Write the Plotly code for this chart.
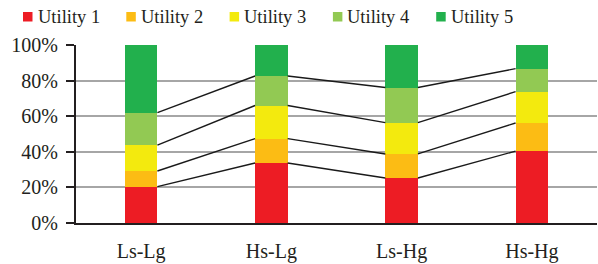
import plotly.graph_objects as go

categories = ["Ls-Lg", "Hs-Lg", "Ls-Hg", "Hs-Hg"]
series_names = ["Utility 1", "Utility 2", "Utility 3", "Utility 4", "Utility 5"]
utility1 = [20.4, 33.7, 25.3, 40.4]
utility2 = [8.8, 13.7, 13.5, 15.8]
utility3 = [14.5, 18.6, 17.6, 17.6]
utility4 = [18.3, 16.6, 19.7, 12.9]
utility5 = [38.0, 17.4, 23.9, 13.3]
colors = ["#ED1C24", "#FCBC14", "#F3EA0E", "#92C953", "#22B04D"]
ytick_vals = [0, 20, 40, 60, 80, 100]
ytick_text = ["0%", "20%", "40%", "60%", "80%", "100%"]

series = [utility1, utility2, utility3, utility4, utility5]
xpos = list(range(len(categories)))
bar_width = 0.25

W, H = 598, 264
ML, MR, MT, MB = 76, 1, 45, 41
PW, PH = W - ML - MR, H - MT - MB

fig = go.Figure()
for name, vals, col in zip(series_names, series, colors):
    fig.add_trace(go.Bar(x=xpos, y=vals, name=name, marker=dict(color=col, line=dict(width=0)),
                         width=bar_width, showlegend=False))

# connector lines between cumulative boundaries
cum = [0.0] * len(categories)
for k in range(len(series) - 1):
    cum = [c + v for c, v in zip(cum, series[k])]
    xs, ys = [], []
    for i in range(len(categories) - 1):
        xs += [xpos[i] + bar_width / 2, xpos[i + 1] - bar_width / 2, None]
        ys += [cum[i], cum[i + 1], None]
    fig.add_trace(go.Scatter(x=xs, y=ys, mode="lines", line=dict(color="#1a1a1a", width=1.4),
                             showlegend=False, hoverinfo="skip"))

font = "Liberation Serif"

# custom legend row (pixel layout converted to paper coordinates)
def px_x(p):
    return (p - ML) / PW

def px_y(p):
    return (H - MB - p) / PH

shapes, annotations = [], []
pitch = 103.3
for i, (name, col) in enumerate(zip(series_names, colors)):
    x0 = 23 + i * pitch
    shapes.append(dict(type="rect", xref="paper", yref="paper",
                       x0=px_x(x0), x1=px_x(x0 + 9.5), y0=px_y(21.5), y1=px_y(12),
                       fillcolor=col, line=dict(width=0), layer="above"))
    annotations.append(dict(text=name, xref="paper", yref="paper", x=px_x(x0 + 12.5),
                            y=px_y(16.5), xanchor="left", yanchor="middle", showarrow=False,
                            font=dict(size=18.5, family=font, color="#231F20")))

fig.update_layout(
    barmode="stack",
    width=W, height=H,
    margin=dict(l=ML, r=MR, t=MT, b=MB, autoexpand=False),
    paper_bgcolor="white", plot_bgcolor="white",
    font=dict(family=font, size=20, color="#231F20"),
    showlegend=False,
    shapes=shapes, annotations=annotations,
    xaxis=dict(range=[-0.5, 3.5], tickvals=xpos, ticktext=categories, showgrid=False,
               showline=True, linecolor="#231F20", linewidth=2, ticks="", zeroline=False,
               ticklabelstandoff=9),
    yaxis=dict(range=[0, 100], tickvals=ytick_vals, ticktext=ytick_text, showgrid=True,
               gridcolor="#A6A6A6", gridwidth=1.5, showline=True, linecolor="#231F20",
               linewidth=2, ticks="outside", ticklen=8, tickcolor="#231F20", tickwidth=1.5,
               zeroline=False, ticklabelstandoff=4),
)
fig.write_html("out.html", config={"displayModeBar": False},
               post_script="document.body.style.margin='0';document.body.style.overflow='hidden';")
